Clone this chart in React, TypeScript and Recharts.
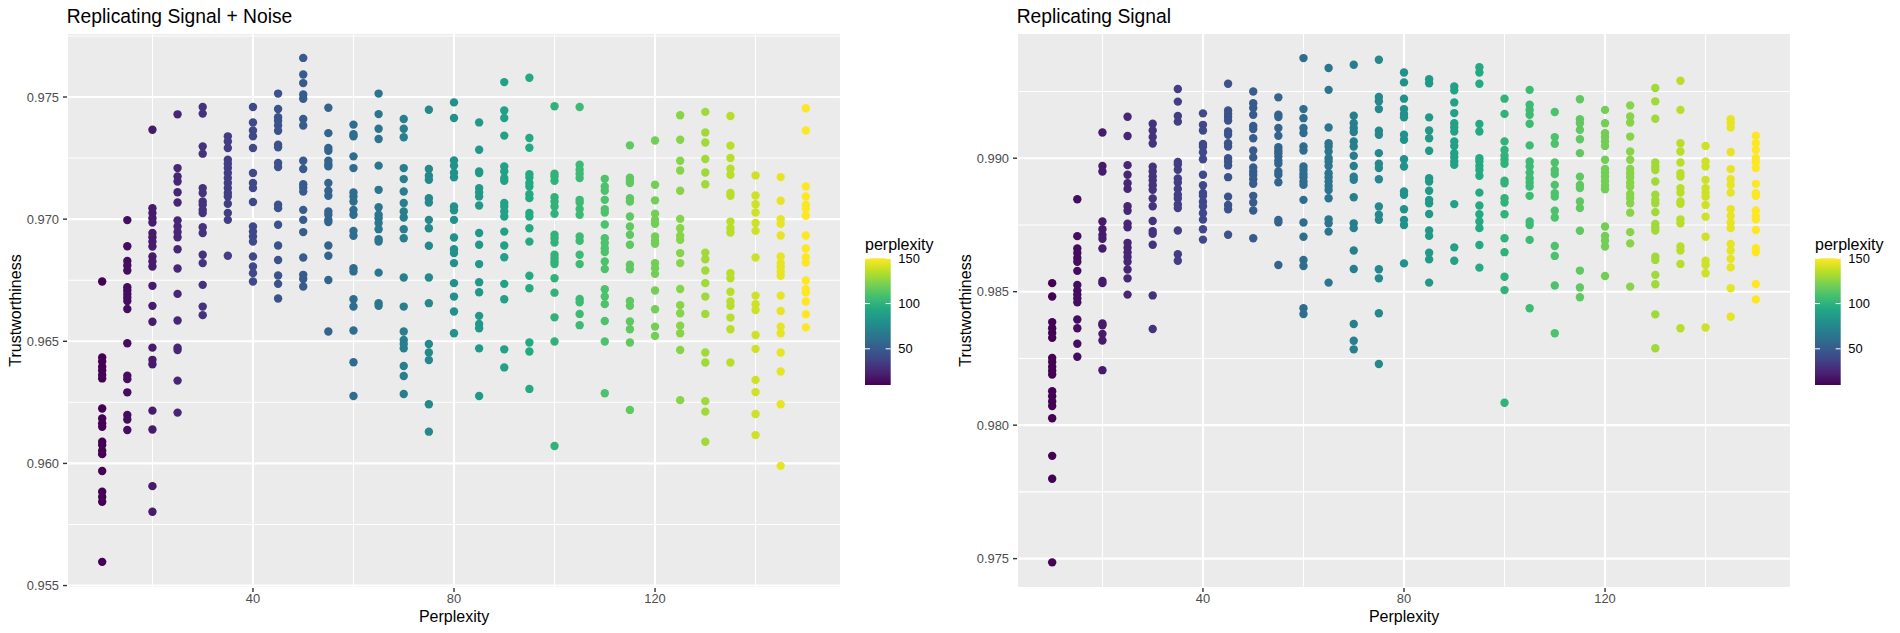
import { ScatterChart, Scatter, XAxis, YAxis, CartesianGrid, ReferenceLine } from 'recharts'

const FONT = '"Liberation Sans", Arial, Helvetica, sans-serif'

const perplexities = [10, 15, 20, 25, 30, 35, 40, 45, 50, 55, 60, 65, 70, 75, 80, 85, 90, 95, 100, 105, 110, 115, 120, 125, 130, 135, 140, 145, 150]

// trustworthiness per perplexity, signal + noise
const noiseTrust: number[][] = [
  [0.96745, 0.96434, 0.96417, 0.96396, 0.9638, 0.96362, 0.96348, 0.96225, 0.96184, 0.96164, 0.9615, 0.96089, 0.96075, 0.96052, 0.96038, 0.95969, 0.95884, 0.95863, 0.95843, 0.95597],
  [0.96996, 0.96889, 0.96829, 0.9681, 0.9679, 0.96721, 0.96708, 0.96694, 0.96679, 0.96665, 0.96632, 0.96492, 0.96359, 0.96345, 0.96291, 0.96198, 0.9618, 0.96137],
  [0.97366, 0.97045, 0.97025, 0.97004, 0.96986, 0.96943, 0.96926, 0.96908, 0.96888, 0.96847, 0.96827, 0.96806, 0.96727, 0.96645, 0.9658, 0.96474, 0.96424, 0.96406, 0.96216, 0.96139, 0.95907, 0.95802],
  [0.97429, 0.97209, 0.97175, 0.97154, 0.9711, 0.97068, 0.96995, 0.9697, 0.96947, 0.96926, 0.96877, 0.96798, 0.96694, 0.96585, 0.96474, 0.96464, 0.96339, 0.96208],
  [0.97459, 0.97432, 0.97298, 0.97268, 0.97127, 0.97107, 0.97072, 0.97059, 0.97038, 0.97025, 0.96967, 0.96943, 0.96854, 0.9682, 0.96731, 0.96642, 0.96607],
  [0.97339, 0.97318, 0.97291, 0.97243, 0.97227, 0.97209, 0.97189, 0.97168, 0.97148, 0.97127, 0.97107, 0.97093, 0.97063, 0.97025, 0.96997, 0.9685],
  [0.97459, 0.97396, 0.97363, 0.97339, 0.97291, 0.97189, 0.97148, 0.97127, 0.9707, 0.9697, 0.96949, 0.96929, 0.96908, 0.96847, 0.96806, 0.96779, 0.96745],
  [0.97514, 0.97451, 0.97417, 0.97403, 0.97383, 0.97362, 0.97305, 0.97294, 0.9723, 0.97213, 0.97059, 0.97045, 0.96977, 0.96892, 0.96833, 0.96769, 0.96735, 0.96675],
  [0.9766, 0.97592, 0.97557, 0.9751, 0.97493, 0.9741, 0.97383, 0.97239, 0.97205, 0.97143, 0.9713, 0.97113, 0.97038, 0.96997, 0.96947, 0.96843, 0.96772, 0.96755, 0.96724],
  [0.97456, 0.97352, 0.97291, 0.9728, 0.97239, 0.97225, 0.97216, 0.97148, 0.97116, 0.97096, 0.97031, 0.97018, 0.96997, 0.96988, 0.96892, 0.9685, 0.96751, 0.9654],
  [0.97387, 0.97348, 0.97339, 0.97257, 0.97209, 0.97109, 0.97093, 0.97072, 0.97038, 0.97018, 0.96952, 0.96932, 0.96799, 0.96786, 0.96672, 0.96642, 0.96544, 0.96414, 0.96276],
  [0.97514, 0.9743, 0.9737, 0.97328, 0.97219, 0.9712, 0.97049, 0.97018, 0.97004, 0.96984, 0.96959, 0.96918, 0.96908, 0.96781, 0.96656, 0.96645],
  [0.9741, 0.9737, 0.97335, 0.97209, 0.97164, 0.97113, 0.97066, 0.97031, 0.97007, 0.96959, 0.96922, 0.96761, 0.96642, 0.9654, 0.96505, 0.96489, 0.96471, 0.96399, 0.96358, 0.96284],
  [0.97448, 0.97205, 0.97178, 0.97161, 0.97086, 0.97068, 0.96997, 0.96963, 0.96891, 0.96761, 0.96656, 0.96489, 0.96454, 0.96423, 0.96242, 0.9613],
  [0.97478, 0.97414, 0.9724, 0.97219, 0.9719, 0.97171, 0.97052, 0.97036, 0.96997, 0.96925, 0.96877, 0.96861, 0.9682, 0.96738, 0.96683, 0.96622, 0.96533],
  [0.97396, 0.97284, 0.97195, 0.97189, 0.97127, 0.9711, 0.97093, 0.97056, 0.96943, 0.96895, 0.96816, 0.96742, 0.96701, 0.96604, 0.96571, 0.96553, 0.96471, 0.96276],
  [0.97561, 0.97445, 0.97414, 0.97342, 0.97216, 0.97195, 0.97168, 0.97157, 0.97066, 0.97052, 0.97031, 0.97011, 0.96949, 0.96892, 0.96844, 0.96735, 0.96672, 0.96467, 0.96393],
  [0.97579, 0.97332, 0.97292, 0.97184, 0.9717, 0.97148, 0.97134, 0.97102, 0.97086, 0.97025, 0.97011, 0.96963, 0.96908, 0.96768, 0.96717, 0.96495, 0.96458, 0.96305],
  [0.97462, 0.97186, 0.97175, 0.97157, 0.9709, 0.97072, 0.97052, 0.97022, 0.96936, 0.96922, 0.96904, 0.96854, 0.9684, 0.96827, 0.96816, 0.96758, 0.96699, 0.96598, 0.96499, 0.96071],
  [0.97459, 0.97223, 0.97202, 0.97186, 0.97168, 0.97079, 0.97068, 0.97041, 0.97018, 0.96929, 0.96911, 0.96854, 0.96816, 0.96673, 0.9666, 0.96612, 0.96566],
  [0.97165, 0.97134, 0.97116, 0.97079, 0.97041, 0.97027, 0.96978, 0.96922, 0.96902, 0.96881, 0.96865, 0.96827, 0.96796, 0.96713, 0.96683, 0.96652, 0.96583, 0.96499, 0.96287],
  [0.97302, 0.9717, 0.97157, 0.97148, 0.97086, 0.97072, 0.97011, 0.9697, 0.96936, 0.96895, 0.96813, 0.96795, 0.96665, 0.96645, 0.96581, 0.96549, 0.96495, 0.96219],
  [0.97322, 0.97141, 0.97077, 0.97022, 0.96997, 0.96981, 0.96929, 0.96911, 0.96899, 0.9682, 0.96799, 0.96776, 0.96708, 0.96631, 0.9656, 0.96522],
  [0.97425, 0.97325, 0.97239, 0.97199, 0.97116, 0.97001, 0.96963, 0.96932, 0.96915, 0.96861, 0.9682, 0.96714, 0.96648, 0.96615, 0.96564, 0.96533, 0.96464, 0.96259],
  [0.97439, 0.97355, 0.97314, 0.97246, 0.97191, 0.97143, 0.96863, 0.96836, 0.9679, 0.96738, 0.96683, 0.96612, 0.96454, 0.96413, 0.96255, 0.96212, 0.96089],
  [0.97422, 0.97301, 0.9725, 0.97206, 0.97182, 0.97107, 0.97096, 0.9699, 0.96963, 0.96945, 0.96779, 0.96758, 0.96703, 0.96663, 0.96645, 0.96597, 0.96549, 0.96413],
  [0.97179, 0.97097, 0.97061, 0.97027, 0.96984, 0.96952, 0.96843, 0.96687, 0.96652, 0.96628, 0.96526, 0.96469, 0.96342, 0.96292, 0.96202, 0.96116],
  [0.97172, 0.97075, 0.97, 0.96981, 0.96933, 0.96847, 0.9682, 0.96803, 0.96786, 0.96768, 0.96687, 0.96624, 0.9656, 0.96533, 0.96454, 0.96376, 0.96242, 0.9599],
  [0.97454, 0.97363, 0.97134, 0.97093, 0.97059, 0.97041, 0.97014, 0.96933, 0.9688, 0.96844, 0.96822, 0.96749, 0.96713, 0.967, 0.96663, 0.96611, 0.96557],
]

// trustworthiness per perplexity, signal only
const signalTrust: number[][] = [
  [0.98532, 0.98482, 0.98386, 0.98363, 0.98345, 0.98327, 0.98252, 0.98237, 0.98219, 0.98204, 0.9819, 0.98127, 0.98108, 0.98089, 0.98072, 0.98026, 0.97885, 0.97799, 0.97486],
  [0.98846, 0.98708, 0.98662, 0.98645, 0.98626, 0.98612, 0.98578, 0.98525, 0.98504, 0.98489, 0.98475, 0.9846, 0.98396, 0.98363, 0.98305, 0.98256],
  [0.99096, 0.98971, 0.9895, 0.98763, 0.98734, 0.98712, 0.98698, 0.98662, 0.9854, 0.98532, 0.98381, 0.98374, 0.98342, 0.98317, 0.98206],
  [0.99155, 0.99083, 0.98974, 0.98938, 0.98906, 0.98885, 0.9882, 0.98803, 0.98755, 0.98741, 0.98683, 0.98665, 0.98647, 0.9863, 0.98612, 0.98583, 0.9855, 0.98489],
  [0.99129, 0.99104, 0.99079, 0.99055, 0.98968, 0.9895, 0.98932, 0.98917, 0.98899, 0.98882, 0.98849, 0.9882, 0.98765, 0.98727, 0.98717, 0.98676, 0.98486, 0.9836],
  [0.99259, 0.99212, 0.99158, 0.99137, 0.98986, 0.98976, 0.98957, 0.98924, 0.98909, 0.98885, 0.98863, 0.98849, 0.98827, 0.98813, 0.98729, 0.9864, 0.98616],
  [0.99168, 0.99125, 0.99104, 0.99053, 0.99043, 0.99022, 0.98996, 0.98938, 0.98899, 0.9887, 0.98859, 0.98837, 0.9882, 0.98794, 0.9877, 0.98734, 0.98695],
  [0.99279, 0.99179, 0.99166, 0.99154, 0.99141, 0.991, 0.99088, 0.99056, 0.99044, 0.99, 0.98988, 0.98973, 0.98929, 0.98856, 0.98825, 0.98809, 0.98713],
  [0.9925, 0.99206, 0.99188, 0.99163, 0.99121, 0.99109, 0.99075, 0.99029, 0.99003, 0.98965, 0.9895, 0.98938, 0.98921, 0.98904, 0.98859, 0.98834, 0.98804, 0.987],
  [0.99228, 0.99163, 0.99154, 0.99113, 0.99084, 0.99041, 0.99029, 0.99019, 0.99006, 0.98991, 0.98979, 0.9895, 0.98938, 0.9891, 0.98769, 0.9876, 0.986],
  [0.99375, 0.99184, 0.9915, 0.99113, 0.99094, 0.99044, 0.99029, 0.98969, 0.98956, 0.98941, 0.98929, 0.98913, 0.989, 0.98844, 0.98759, 0.98706, 0.98619, 0.98596, 0.98438, 0.98416],
  [0.99338, 0.99256, 0.99115, 0.99056, 0.99044, 0.99025, 0.99, 0.98988, 0.98971, 0.98944, 0.98929, 0.98913, 0.98896, 0.98881, 0.9885, 0.98771, 0.98756, 0.98725, 0.98534],
  [0.9935, 0.99159, 0.99131, 0.99113, 0.99098, 0.99063, 0.99044, 0.99009, 0.98971, 0.98931, 0.98919, 0.98854, 0.98756, 0.98738, 0.98654, 0.98585, 0.98379, 0.98316, 0.98284],
  [0.99369, 0.99229, 0.99213, 0.99184, 0.99103, 0.99088, 0.99019, 0.98979, 0.98963, 0.98921, 0.98819, 0.98788, 0.98769, 0.98584, 0.9855, 0.98419, 0.98229],
  [0.99321, 0.99284, 0.99223, 0.99184, 0.99166, 0.99153, 0.99088, 0.99069, 0.98996, 0.98969, 0.98875, 0.98863, 0.98809, 0.98769, 0.9875, 0.98606],
  [0.99296, 0.99281, 0.99153, 0.99104, 0.99075, 0.99028, 0.98925, 0.98913, 0.98878, 0.98844, 0.98831, 0.98791, 0.98729, 0.98709, 0.98646, 0.98621, 0.98534],
  [0.99269, 0.99254, 0.99209, 0.99169, 0.99131, 0.99116, 0.991, 0.99063, 0.99046, 0.99019, 0.99004, 0.98988, 0.98975, 0.98828, 0.98666, 0.98616],
  [0.99341, 0.99321, 0.99279, 0.99128, 0.991, 0.99, 0.98988, 0.98971, 0.98956, 0.98934, 0.98871, 0.98823, 0.9879, 0.98763, 0.98738, 0.98675, 0.9859],
  [0.99223, 0.99166, 0.99063, 0.99031, 0.99009, 0.98994, 0.98979, 0.98916, 0.98906, 0.9885, 0.98834, 0.9879, 0.987, 0.98648, 0.98556, 0.98506, 0.98084],
  [0.99256, 0.992, 0.99181, 0.99163, 0.99129, 0.99048, 0.98988, 0.98969, 0.98946, 0.98925, 0.98909, 0.98894, 0.98859, 0.98763, 0.9875, 0.98694, 0.98438],
  [0.99173, 0.99079, 0.99054, 0.98984, 0.98956, 0.98941, 0.989, 0.98869, 0.98856, 0.98803, 0.98778, 0.98671, 0.98634, 0.98523, 0.98344],
  [0.99221, 0.99146, 0.99131, 0.99106, 0.99071, 0.99019, 0.98931, 0.989, 0.98888, 0.98838, 0.98813, 0.98728, 0.98579, 0.98516, 0.98479],
  [0.99181, 0.99131, 0.99094, 0.99079, 0.99063, 0.99046, 0.98994, 0.9896, 0.98946, 0.98931, 0.98915, 0.98898, 0.98884, 0.98744, 0.98709, 0.98691, 0.98669, 0.98559],
  [0.99198, 0.99156, 0.99134, 0.99081, 0.99025, 0.98994, 0.9896, 0.98944, 0.98929, 0.98909, 0.98894, 0.98866, 0.9885, 0.98831, 0.98796, 0.98723, 0.98681, 0.98519],
  [0.99263, 0.99213, 0.99148, 0.98984, 0.98969, 0.98956, 0.98913, 0.98863, 0.98844, 0.98831, 0.98798, 0.98754, 0.98741, 0.98729, 0.98631, 0.98619, 0.98563, 0.98528, 0.98415, 0.98288],
  [0.9929, 0.99181, 0.99056, 0.99025, 0.98984, 0.98944, 0.98931, 0.98888, 0.98871, 0.98838, 0.98829, 0.98771, 0.98756, 0.98669, 0.98654, 0.98604, 0.98363],
  [0.99046, 0.98988, 0.98969, 0.98919, 0.98888, 0.98871, 0.98856, 0.98825, 0.98781, 0.98706, 0.98616, 0.986, 0.98569, 0.98366],
  [0.99146, 0.99131, 0.99115, 0.99023, 0.98959, 0.98921, 0.989, 0.98871, 0.98809, 0.98784, 0.98759, 0.98738, 0.98679, 0.98654, 0.98623, 0.98591, 0.98513, 0.98406],
  [0.99084, 0.99056, 0.99031, 0.99, 0.98984, 0.98963, 0.98904, 0.98869, 0.98859, 0.98804, 0.98784, 0.98771, 0.98731, 0.98663, 0.98648, 0.98529, 0.98471],
]

const xTicks = [40, 80, 120]
const xMinor = [20, 60, 100, 140]
const noiseTicks = [0.955, 0.96, 0.965, 0.97, 0.975]
const noiseMinor = [0.9575, 0.9625, 0.9675, 0.9725, 0.9775]
const signalTicks = [0.975, 0.98, 0.985, 0.99]
const signalMinor = [0.9775, 0.9825, 0.9875, 0.9925]
const legendTicks = [50, 100, 150]
const colourLimits = [10, 150]

const viridisStops = ['#440154', '#482475', '#414487', '#355f8d', '#2a788e', '#21918c', '#22a884', '#44bf70', '#7ad151', '#bddf26', '#fde725']

function viridis(v: number) {
  const t = Math.min(1, Math.max(0, (v - colourLimits[0]) / (colourLimits[1] - colourLimits[0])))
  const pos = t * (viridisStops.length - 1)
  const i = Math.min(viridisStops.length - 2, Math.floor(pos))
  const f = pos - i
  const a = parseInt(viridisStops[i].slice(1), 16)
  const b = parseInt(viridisStops[i + 1].slice(1), 16)
  const mix = (sh: number) => Math.round(((a >> sh) & 255) * (1 - f) + ((b >> sh) & 255) * f)
  return `rgb(${mix(16)},${mix(8)},${mix(0)})`
}

const dot = (props: any) => <circle cx={props.cx} cy={props.cy} r={4.2} fill={props.fill} />

const tickStyle = { fill: '#4D4D4D', fontSize: 12.9, fontFamily: FONT }

// colourbar box
const BAR = { x: 865, y: 258.3, w: 25.7, h: 126.7 }

function Panel({ id, title, series, yDomain, yTicks, yMinor }: {
  id: string
  title: string
  series: number[][]
  yDomain: [number, number]
  yTicks: number[]
  yMinor: number[]
}) {
  const barY = (v: number) => BAR.y + BAR.h - ((v - colourLimits[0]) / (colourLimits[1] - colourLimits[0])) * BAR.h
  return (
    <div style={{ position: 'relative', width: 950, height: 633 }}>
      <ScatterChart width={950} height={633} margin={{ top: 33, right: 109, bottom: 0, left: 0 }}>
        <CartesianGrid fill="#EBEBEB" stroke="#FFFFFF" strokeWidth={2.1} />
        {xMinor.map((x) => (
          <ReferenceLine key={'xm' + x} x={x} stroke="#FFFFFF" strokeWidth={1.05} />
        ))}
        {yMinor.map((y) => (
          <ReferenceLine key={'ym' + y} y={y} stroke="#FFFFFF" strokeWidth={1.05} />
        ))}
        <XAxis
          type="number"
          dataKey="x"
          domain={[3, 157]}
          ticks={xTicks}
          interval={0}
          allowDataOverflow
          axisLine={false}
          tickLine={{ stroke: '#333333', strokeWidth: 1.4 }}
          tickSize={4}
          tickMargin={2}
          height={45}
          tick={tickStyle}
        />
        <YAxis
          type="number"
          dataKey="y"
          domain={yDomain}
          ticks={yTicks}
          interval={0}
          allowDataOverflow
          axisLine={false}
          tickLine={{ stroke: '#333333', strokeWidth: 1.4 }}
          tickSize={4}
          tickMargin={4}
          width={67}
          tick={tickStyle}
          tickFormatter={(v: number) => v.toFixed(3)}
        />
        {perplexities.map((p, i) => (
          <Scatter
            key={p}
            data={series[i].map((v) => ({ x: p, y: v }))}
            fill={viridis(p)}
            shape={dot}
            isAnimationActive={false}
          />
        ))}
      </ScatterChart>
      <svg
        width={950}
        height={633}
        style={{ position: 'absolute', left: 0, top: 0, pointerEvents: 'none' }}
        fontFamily={FONT}
      >
        <defs>
          <linearGradient id={id + '-grad'} x1="0" y1="1" x2="0" y2="0">
            {viridisStops.map((c, i) => (
              <stop key={c} offset={i / (viridisStops.length - 1)} stopColor={c} />
            ))}
          </linearGradient>
        </defs>
        <text x={66.7} y={23} fontSize={19.3} fill="#000">{title}</text>
        <text x={454} y={622} fontSize={16} textAnchor="middle" fill="#000">Perplexity</text>
        <text transform="translate(20.5,310.5) rotate(-90)" fontSize={16} textAnchor="middle" fill="#000">
          Trustworthiness
        </text>
        <text x={BAR.x} y={250} fontSize={16} fill="#000">perplexity</text>
        <rect x={BAR.x} y={BAR.y} width={BAR.w} height={BAR.h} fill={`url(#${id}-grad)`} />
        {legendTicks.map((t) => (
          <g key={t}>
            <line x1={BAR.x} x2={BAR.x + 5} y1={barY(t)} y2={barY(t)} stroke="#FFFFFF" strokeWidth={1} />
            <line x1={BAR.x + BAR.w - 5} x2={BAR.x + BAR.w} y1={barY(t)} y2={barY(t)} stroke="#FFFFFF" strokeWidth={1} />
            <text x={898.3} y={barY(t) + 4.6} fontSize={12.9} fill="#000">{t}</text>
          </g>
        ))}
      </svg>
    </div>
  )
}

export default function App() {
  return (
    <div style={{ position: 'absolute', left: 0, top: 0, width: 1900, height: 633, background: '#fff', display: 'flex' }}>
      <Panel
        id="noise"
        title="Replicating Signal + Noise"
        series={noiseTrust}
        yDomain={[0.9549, 0.97762]}
        yTicks={noiseTicks}
        yMinor={noiseMinor}
      />
      <Panel
        id="signal"
        title="Replicating Signal"
        series={signalTrust}
        yDomain={[0.9739, 0.99469]}
        yTicks={signalTicks}
        yMinor={signalMinor}
      />
    </div>
  )
}
